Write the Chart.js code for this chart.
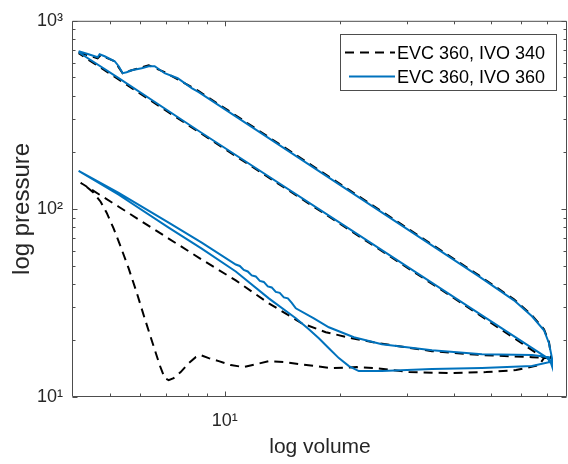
<!DOCTYPE html>
<html><head><meta charset="utf-8">
<script src="https://cdn.jsdelivr.net/npm/chart.js@4.4.1/dist/chart.umd.min.js"></script>
<style>html,body{margin:0;padding:0;background:#fff;}#wrap{width:568px;height:464px;}</style>
</head><body><div id="wrap"><canvas id="c" width="568" height="464"></canvas></div>
<script>
// ---------- data (volume, pressure) ----------
const seriesLabels = ['EVC 360, IVO 340', 'EVC 360, IVO 360'];

// Blue: EVC 360, IVO 360
const blueExpV = [4.138,4.395,4.642,4.698,4.842,5.145,5.271,5.399,5.531,5.701,6.056,6.317,6.550,6.957,7.526,8.191,8.547,15.64,28.62,46.42,57.36,63.94,68.75,70.86,72.15,72.15];
const blueExpP = [688.5,663.8,640.0,663.8,647.9,609.5,573.4,526.5,533.0,546.1,559.6,573.4,573.4,526.5,495.3,438.5,417.7,186.7,83.52,43.74,32.65,26.86,22.64,19.32,16.10,14.60];
const blueExhV = [70.86,63.94,47.27,34.95,25.83,21.81,18.75,17.13,15.36,14.99,14.64,14.29,13.94,13.61,13.28,12.97,12.66,12.36,12.06,11.77,11.49,11.22,10.95,10.69,8.702,7.128,5.271,4.138];
const blueExhP = [16.29,16.70,16.90,17.74,19.09,20.79,23.49,26.20,29.61,31.66,33.45,33.86,35.77,36.21,38.24,38.72,40.91,41.41,43.74,44.28,46.49,47.35,49.72,50.61,66.22,84.55,121.8,159.3];
const blueIntV = [4.138,5.271,7.128,8.702,10.69,13.05,15.36,16.62,17.65,18.75,19.92,21.17,22.47,25.83,34.95,47.27,63.94,70.86];
const blueIntP = [159.3,118.9,79.51,61.54,46.49,33.45,26.20,22.92,20.54,18.18,16.10,14.60,13.73,13.73,14.07,14.24,14.60,15.32];
const blueCmpV = [70.86,69.58,41.13,21.17,8.547,5.271,4.138];
const blueCmpP = [15.70,16.29,32.65,78.56,259.6,495.3,680.2];

// Black dashed: EVC 360, IVO 340
const blackExpV = [4.138,4.642,4.726,5.145,5.399,5.701,6.317,6.957,8.191,8.547,15.64,28.62,46.42,57.36,63.94,68.75,70.86,71.72];
const blackExpP = [680.2,632.2,655.8,609.5,526.5,546.1,580.4,533.0,443.9,422.8,189.0,84.55,44.28,33.04,27.19,22.92,19.57,16.70];
const blackExhV = [71.72,70.00,63.94,47.27,34.95,25.37,21.54,18.41,15.93,13.05,10.69,8.702,7.128,5.271,4.188];
const blackExhP = [16.10,16.10,16.29,16.70,17.52,19.32,20.54,22.10,24.66,31.47,41.66,53.82,69.55,102.7,137.7];
const blackIntV = [4.188,4.343,4.531,4.726,4.901,5.114,5.333,5.598,5.875,6.166,6.471,6.751,6.957,7.128,7.346,7.664,8.043,8.392,8.650,9.078,9.645,10.37,11.22,12.13,13.05,14.29,15.64,19.09,22.21,24.91,30.40,38.71,48.42,58.07,66.70,68.75];
const blackIntP = [137.7,131.1,121.8,109.2,95.48,78.56,63.07,48.24,35.98,26.20,19.32,14.78,12.61,12.30,12.61,13.57,15.14,16.29,16.70,16.10,15.51,14.78,14.42,14.96,15.51,15.32,14.96,14.24,14.42,14.24,13.57,13.40,13.57,13.90,14.78,16.10];
const blackCmpV = [68.75,41.13,21.17,8.547,4.138];
const blackCmpP = [16.10,32.26,77.60,256.4,672.0];

// axes
const xMin = 4, xMax = 79, yMin = 10, yMax = 1000;
const xTickValues = [10];
const xTickLabels = ['10\u00B9'];
const yTickValues = [10, 100, 1000];
const yTickLabels = ['10\u00B9', '10\u00B2', '10\u00B3'];
const xMinorTicks = [5,6,7,8,9,20,30,40,50,60,70];
const yMinorTicks = [20,30,40,50,60,70,80,90,200,300,400,500,600,700,800,900];

function pts(vs, ps) { return vs.map((v, i) => ({x: v, y: ps[i]})); }
const blackData = [].concat(pts(blackExpV, blackExpP), pts(blackExhV, blackExhP), pts(blackIntV, blackIntP), pts(blackCmpV, blackCmpP));
const blueData = [].concat(pts(blueExpV, blueExpP), pts(blueExhV, blueExhP), pts(blueIntV, blueIntP), pts(blueCmpV, blueCmpP));

const FONT = "'Liberation Sans', Arial, Helvetica, sans-serif";
const BLUE = '#0072BD';
const AXC = '#262626';
const FRAME = '#4d4d4d';

const framePlugin = {
  id: 'frame',
  afterDatasetsDraw(chart) {
    const {ctx, chartArea: {left, right, top, bottom}, scales: {x, y}} = chart;
    ctx.save();
    ctx.strokeStyle = FRAME;
    ctx.lineWidth = 1;
    ctx.setLineDash([]);
    const L = left - 0.5, R = right - 0.5, T = top + 0.5, B = bottom - 0.5;
    ctx.beginPath();
    ctx.moveTo(L, T); ctx.lineTo(R, T); ctx.lineTo(R, B); ctx.lineTo(L, B); ctx.closePath();
    ctx.stroke();
    ctx.beginPath();
    yMinorTicks.concat(yTickValues).forEach(v => {
      const len = yTickValues.includes(v) ? 5 : 3;
      const py = Math.round(y.getPixelForValue(v)) + 0.5;
      ctx.moveTo(L, py); ctx.lineTo(L + len, py);
      ctx.moveTo(R, py); ctx.lineTo(R - len, py);
    });
    xMinorTicks.concat(xTickValues).forEach(v => {
      const len = xTickValues.includes(v) ? 5 : 3;
      const px = Math.round(x.getPixelForValue(v)) + 0.5;
      if (px > R) return;
      ctx.moveTo(px, B); ctx.lineTo(px, B - len);
      ctx.moveTo(px, T); ctx.lineTo(px, T + len);
    });
    ctx.stroke();
    ctx.restore();
  },
  afterDraw(chart) {
    const {ctx} = chart;
    const ds = chart.data.datasets;
    ctx.save();
    const bx = 340.5, by = 34.5, bw = 216, bh = 56;
    ctx.fillStyle = '#fff';
    ctx.fillRect(bx, by, bw, bh);
    ctx.strokeStyle = FRAME;
    ctx.lineWidth = 1;
    ctx.strokeRect(bx, by, bw, bh);
    const rows = [52, 76];
    ds.forEach((d, i) => {
      const ly = rows[i];
      ctx.beginPath();
      ctx.strokeStyle = d.borderColor;
      ctx.lineWidth = d.borderWidth;
      ctx.setLineDash(d.borderDash || []);
      ctx.moveTo(i === 0 ? 345 : 349, ly + 0.5);
      ctx.lineTo(395, ly + 0.5);
      ctx.stroke();
      ctx.setLineDash([]);
      ctx.fillStyle = '#000';
      ctx.font = '18px ' + FONT;
      ctx.textBaseline = 'alphabetic';
      ctx.textAlign = 'left';
      ctx.fillText(d.label, 397, ly + 6.5);
    });
    ctx.restore();
  }
};

new Chart(document.getElementById('c'), {
  type: 'scatter',
  data: {
    datasets: [
      { label: seriesLabels[0], data: blackData, showLine: true, borderColor: '#000000', borderWidth: 2,
        borderDash: [9, 6], pointRadius: 0, pointHoverRadius: 0, tension: 0, fill: false, order: 1 },
      { label: seriesLabels[1], data: blueData, showLine: true, borderColor: BLUE, borderWidth: 2,
        pointRadius: 0, pointHoverRadius: 0, tension: 0, fill: false, order: 0 }
    ]
  },
  options: {
    responsive: false,
    devicePixelRatio: 1,
    animation: false,
    events: [],
    layout: { padding: { top: 19, right: 1, left: 0, bottom: 0 } },
    plugins: { legend: { display: false }, tooltip: { enabled: false } },
    scales: {
      x: {
        type: 'logarithmic', min: xMin, max: xMax, position: 'bottom',
        afterBuildTicks(s) { s.ticks = xTickValues.map(v => ({value: v})); },
        afterFit(s) { s.height = 67; },
        grid: { display: false, drawTicks: false },
        border: { display: false },
        ticks: { autoSkip: false, maxRotation: 0, padding: 13, color: AXC, font: { family: FONT, size: 18 },
          callback: (v) => { const k = xTickValues.indexOf(v); return k >= 0 ? xTickLabels[k] : ''; } },
        title: { display: true, text: 'log volume', color: AXC, font: { family: FONT, size: 21 }, padding: { top: 0, bottom: 4 } }
      },
      y: {
        type: 'logarithmic', min: yMin, max: yMax, position: 'left',
        afterBuildTicks(s) { s.ticks = yTickValues.map(v => ({value: v})); },
        afterFit(s) { s.width = 73; },
        grid: { display: false, drawTicks: false },
        border: { display: false },
        ticks: { autoSkip: false, padding: 10, color: AXC, font: { family: FONT, size: 18 },
          callback: (v) => { const k = yTickValues.indexOf(v); return k >= 0 ? yTickLabels[k] : ''; } },
        title: { display: true, text: 'log pressure', color: AXC, font: { family: FONT, size: 24 }, padding: { top: 8, bottom: 0 } }
      }
    }
  },
  plugins: [framePlugin]
});
</script>
</body></html>
